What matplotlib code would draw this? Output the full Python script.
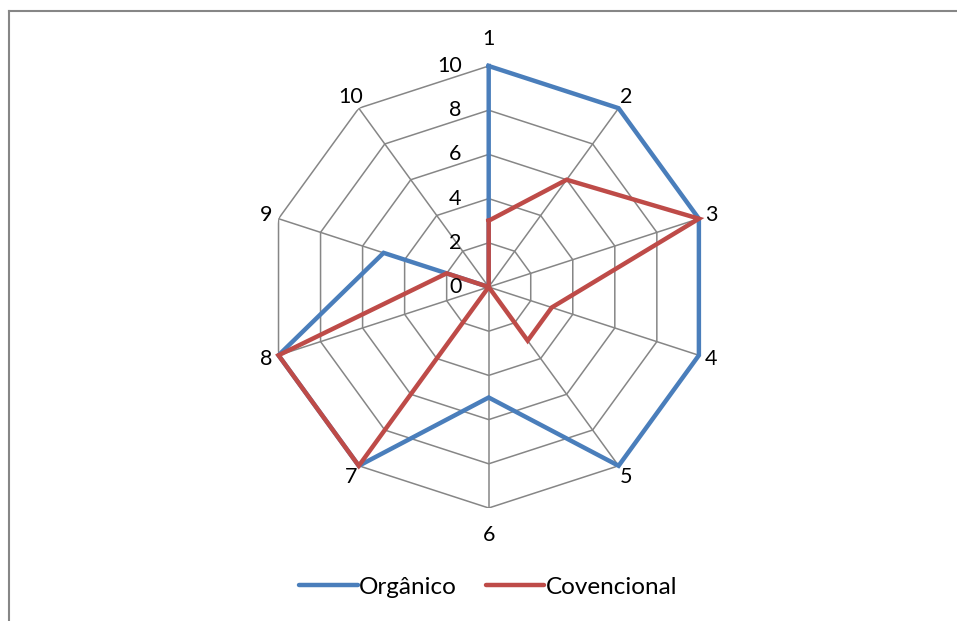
import numpy as np
import matplotlib.pyplot as plt
from matplotlib.lines import Line2D

categories = ["1", "2", "3", "4", "5", "6", "7", "8", "9", "10"]
organico = [10, 10, 10, 10, 10, 5, 10, 10, 5, 0]
convencional = [3, 6, 10, 3, 3, 0, 10, 10, 2, 0]
ticks = [0, 2, 4, 6, 8, 10]
series_names = ["Orgânico", "Covencional"]

BLUE = "#4A7EBB"
RED = "#BE4B48"
GRID = "#868686"
FONT = "Lato"

fig = plt.figure(figsize=(9.57, 6.21), dpi=100)

# outer chart frame (only top and left edges fall inside the image)
fig.add_artist(Line2D([8.5 / 957, 8.5 / 957], [0, 1 - 10.5 / 621],
                      color=GRID, lw=1.5, transform=fig.transFigure))
fig.add_artist(Line2D([8.5 / 957, 1], [1 - 10.5 / 621, 1 - 10.5 / 621],
                      color=GRID, lw=1.5, transform=fig.transFigure))

cx, cy, rad = 488.7, 287.0, 221.0
ax = fig.add_axes([(cx - rad) / 957, 1 - (cy + rad) / 621,
                   2 * rad / 957, 2 * rad / 621], projection="polar")
ax.set_theta_zero_location("N")
ax.set_theta_direction(-1)
ax.set_ylim(0, 10)
ax.grid(False)
ax.spines["polar"].set_visible(False)
ax.set_xticks([])
ax.set_yticks([])
ax.patch.set_alpha(0)

n = len(categories)
theta = np.arange(n) * 2 * np.pi / n
closed = np.append(theta, theta[0])

# polygonal gridlines and spokes
for level in ticks[1:]:
    ax.plot(closed, [level] * (n + 1), color=GRID, lw=1.1, zorder=1)
for t in theta:
    ax.plot([t, t], [0, 10], color=GRID, lw=1.1, zorder=1)

for vals, color in [(organico, BLUE), (convencional, RED)]:
    ax.plot(closed, vals + vals[:1], color=color, lw=3.2, zorder=3,
            solid_joinstyle="miter", clip_on=False)

# radial value labels along the first spoke
for level in ticks:
    ax.annotate(str(level), xy=(0, level), xytext=(-19.5, 0),
                textcoords="offset points", ha="right", va="center",
                fontsize=15.5, family=FONT, zorder=4)

# category labels around the outside
for t, lab in zip(theta, categories):
    r = 11.2 if abs(np.cos(t)) > 0.99 else 10.6
    ax.text(t, r, lab, ha="center", va="center", fontsize=15.5, family=FONT,
            clip_on=False)

handles = [Line2D([], [], color=BLUE, lw=3.2, solid_capstyle="round"),
           Line2D([], [], color=RED, lw=3.2, solid_capstyle="round")]
fig.legend(handles, series_names, loc="center", bbox_to_anchor=(0.51, 1 - 587 / 621),
           ncol=2, frameon=False, prop={"family": FONT, "size": 17.5},
           handlelength=2.4, handletextpad=0.05, columnspacing=1.2)

fig.savefig("out.png", dpi=100, facecolor="white")
